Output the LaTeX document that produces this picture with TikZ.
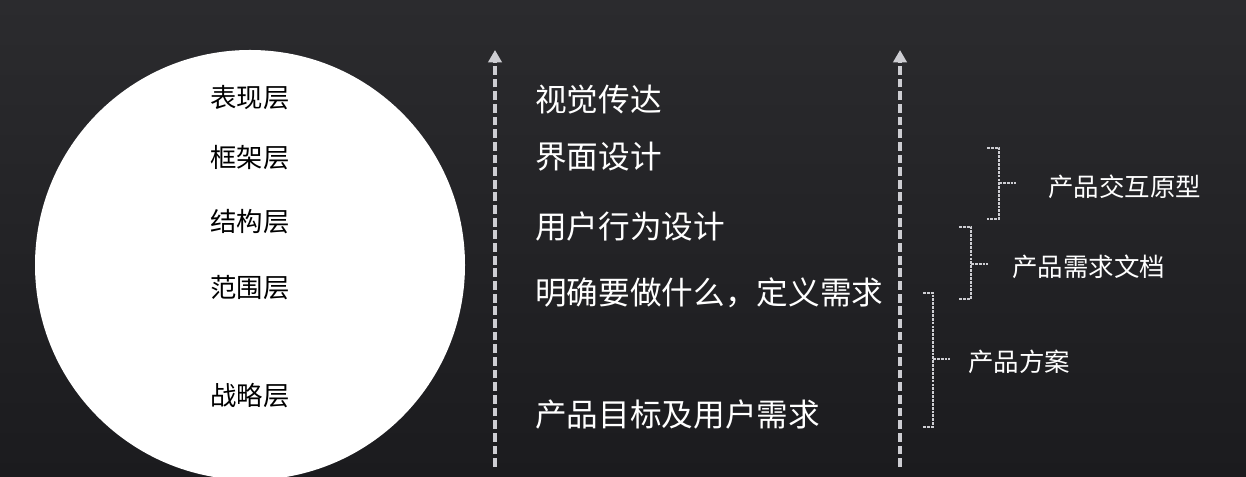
\documentclass[tikz,border=0pt]{standalone}
\usepackage{fontspec}
\setmainfont{Noto Sans CJK SC}
\usepackage{tikz}
\usetikzlibrary{arrows.meta}
\definecolor{bgtop}{HTML}{2B2B2E}
\definecolor{bgbot}{HTML}{1B1B1E}
\definecolor{linegray}{HTML}{CDCDD2}
\tikzset{
    layertext/.style={inner sep=0mm, text=black, font=\fontsize{15}{17}\selectfont},
    worktext/.style={inner sep=0mm, anchor=west, text=white, font=\fontsize{18}{20}\selectfont},
    doctext/.style={inner sep=0mm, anchor=west, text=white, font=\fontsize{14.5}{16}\selectfont}
}
\tikzset{
    flowarrow/.style={draw=linegray, line width=2.1pt, dash pattern=on 5pt off 2.2pt,
        -{Triangle[width=7.5pt,length=7pt]}},
    bracket/.style={draw=linegray, line width=0.8pt, dash pattern=on 1.6pt off 0.6pt}
}

\begin{document}
\begin{tikzpicture}
    \useasboundingbox (0cm,0cm) rectangle (24.92cm,9.54cm);
    \clip (0cm,0cm) rectangle (24.92cm,9.54cm);
    \shade[top color=bgtop, bottom color=bgbot] (0cm,0cm) rectangle (24.92cm,9.54cm);

    % circle with the five layers
    \fill[white] (5.0cm,4.24cm) circle (4.3cm);
    \node (surface) at (5.0cm,7.58cm) [layertext] {表现层};
    \node (skeleton) at (5.0cm,6.38cm) [layertext] {框架层};
    \node (structure) at (5.0cm,5.10cm) [layertext] {结构层};
    \node (scope) at (5.0cm,3.78cm) [layertext] {范围层};
    \node (strategy) at (5.0cm,1.62cm) [layertext] {战略层};

    % dashed arrows
    \coordinate (la) at (9.9cm,0.2cm);
    \coordinate (lb) at (9.9cm,8.54cm);
    \coordinate (ra) at (18.0cm,0.2cm);
    \coordinate (rb) at (18.0cm,8.54cm);
    \draw[flowarrow] (la) -- (lb);
    \draw[flowarrow] (ra) -- (rb);

    \node (visual) at (10.7cm,7.54cm) [worktext] {视觉传达};
    \node (ui) at (10.7cm,6.40cm) [worktext] {界面设计};
    \node (behave) at (10.7cm,5.00cm) [worktext] {用户行为设计};
    \node (define) at (10.7cm,3.68cm) [worktext] {明确要做什么，定义需求};
    \node (goal) at (10.7cm,1.24cm) [worktext] {产品目标及用户需求};

    % brackets
    \coordinate (b1top) at (19.74cm,6.58cm);
    \coordinate (b1bot) at (19.74cm,5.16cm);
    \coordinate (b1mid) at (19.98cm,5.88cm);
    \coordinate (b1end) at (20.32cm,5.88cm);
    \draw[bracket] (b1top) -- ++(0.24cm,0) |- (b1bot);
    \draw[bracket] (b1mid) -- (b1end);
    \node (proto) at (20.96cm,5.80cm) [doctext] {产品交互原型};

    \coordinate (b2top) at (19.18cm,5.00cm);
    \coordinate (b2bot) at (19.18cm,3.56cm);
    \coordinate (b2mid) at (19.42cm,4.26cm);
    \coordinate (b2end) at (19.76cm,4.26cm);
    \draw[bracket] (b2top) -- ++(0.24cm,0) |- (b2bot);
    \draw[bracket] (b2mid) -- (b2end);
    \node (prd) at (20.24cm,4.20cm) [doctext] {产品需求文档};

    \coordinate (b3top) at (18.46cm,3.68cm);
    \coordinate (b3bot) at (18.46cm,1.00cm);
    \coordinate (b3mid) at (18.66cm,2.36cm);
    \coordinate (b3end) at (19.00cm,2.36cm);
    \draw[bracket] (b3top) -- ++(0.20cm,0) |- (b3bot);
    \draw[bracket] (b3mid) -- (b3end);
    \node (plan) at (19.36cm,2.30cm) [doctext] {产品方案};
\end{tikzpicture}
\end{document}
